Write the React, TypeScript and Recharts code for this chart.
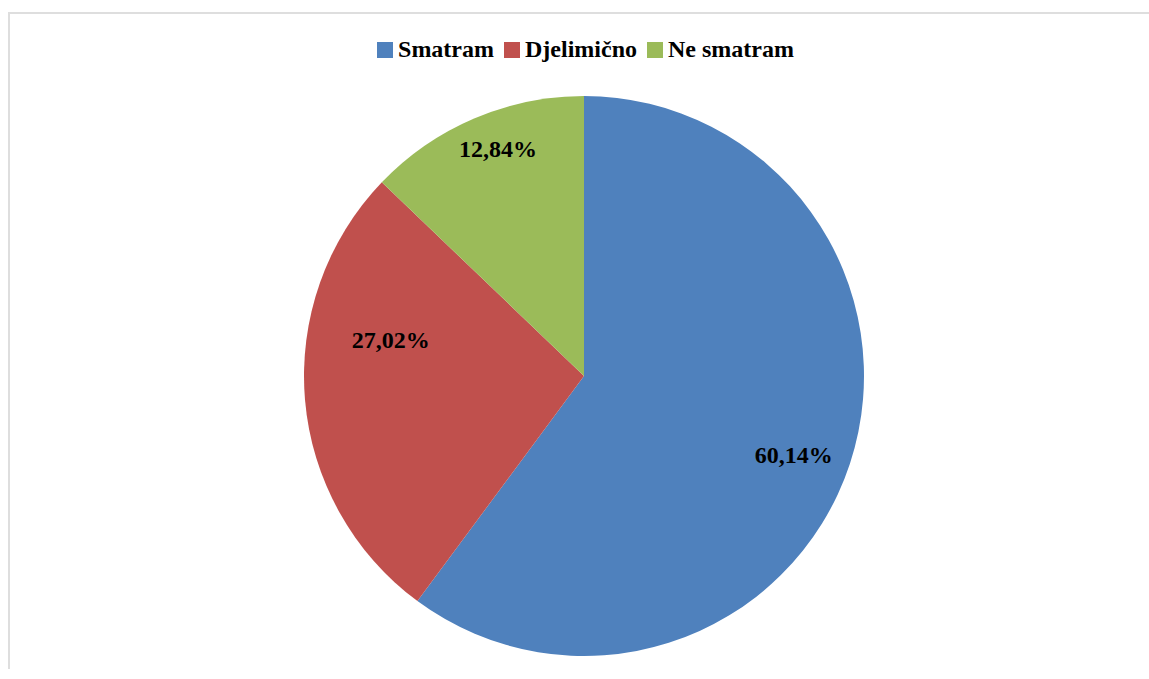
import React from 'react';
import { PieChart, Pie, Cell, Legend } from 'recharts';

const CATEGORIES = ['Smatram', 'Djelimično', 'Ne smatram'];
const VALUES = [60.14, 27.02, 12.84];
const COLORS = ['#4F81BD', '#C0504D', '#9BBB59'];
// small nudges (px) for label placement, like Excel's best-fit
const LABEL_NUDGE = [
  [-3, 9],
  [30, -55],
  [2, -21],
];

const data = CATEGORIES.map((name, i) => ({ name, value: VALUES[i] }));

const FONT = "'Times New Roman', 'Liberation Serif', 'DejaVu Serif', serif";
const RAD = Math.PI / 180;

const formatPct = (v: number) => v.toFixed(2).replace('.', ',') + '%';

const renderLabel = (props: any) => {
  const { cx, cy, midAngle, outerRadius, value, index } = props;
  const r = outerRadius * 0.8;
  const [nx, ny] = LABEL_NUDGE[index] || [0, 0];
  const x = cx + r * Math.cos(-midAngle * RAD) + nx;
  const y = cy + r * Math.sin(-midAngle * RAD) + ny;
  return (
    <text
      x={x}
      y={y}
      textAnchor="middle"
      dominantBaseline="central"
      fill="#000"
      style={{ fontFamily: FONT, fontWeight: 'bold', fontSize: 24 }}
    >
      {formatPct(value)}
    </text>
  );
};

const LegendContent = () => (
  <div
    style={{
      display: 'flex',
      justifyContent: 'center',
      alignItems: 'center',
      paddingLeft: 12,
      fontFamily: FONT,
      fontWeight: 'bold',
      fontSize: 24,
      color: '#000',
    }}
  >
    {CATEGORIES.map((name, i) => (
      <div
        key={name}
        style={{ display: 'flex', alignItems: 'center', marginRight: i < CATEGORIES.length - 1 ? 10 : 0 }}
      >
        <span
          style={{
            display: 'inline-block',
            width: 16,
            height: 16,
            background: COLORS[i],
            marginRight: 5,
          }}
        />
        <span>{name}</span>
      </div>
    ))}
  </div>
);

const App: React.FC = () => {
  return (
    <div
      style={{
        position: 'absolute',
        left: 8,
        top: 12,
        right: 0,
        height: 655,
        borderTop: '2px solid #dedede',
        borderLeft: '2px solid #dedede',
        background: '#fff',
        overflow: 'hidden',
      }}
    >
      <PieChart width={1139} height={655} margin={{ top: 0, right: 0, bottom: 0, left: 0 }}>
        <Legend
          verticalAlign="middle"
          align="center"
          content={<LegendContent />}
          wrapperStyle={{ top: 22, left: 0, width: 1139 }}
        />
        <Pie
          data={data}
          dataKey="value"
          nameKey="name"
          cx={574}
          cy={362}
          outerRadius={280}
          startAngle={90}
          endAngle={-270}
          stroke="none"
          label={renderLabel}
          labelLine={false}
          isAnimationActive={false}
        >
          {data.map((d, i) => (
            <Cell key={d.name} fill={COLORS[i]} />
          ))}
        </Pie>
      </PieChart>
    </div>
  );
};

export default App;
